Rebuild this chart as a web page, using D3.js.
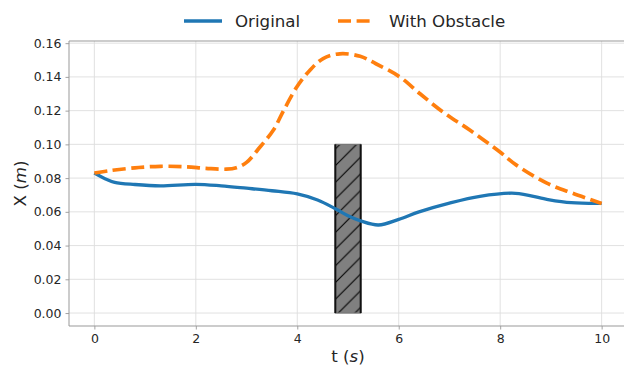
<!DOCTYPE html>
<html>
<head>
<meta charset="utf-8">
<script src="https://cdn.jsdelivr.net/npm/d3@7"></script>
<style>
  html, body { margin: 0; padding: 0; background: #fff; }
  svg { display: block; font-family: "DejaVu Sans", sans-serif; }
</style>
</head>
<body>
<svg id="chart" width="624" height="366"></svg>
<script>
// Time samples and trajectories (metres)
const originalT = [0, 0.2, 0.4, 0.8, 1.3, 2.0, 2.5, 3.0, 3.5, 4.0, 4.4, 4.76, 5.0, 5.26, 5.6, 6.0, 6.4, 7.0, 7.6, 8.3, 8.9, 9.4, 10];
const originalX = [0.083, 0.0798, 0.0775, 0.0762, 0.0754, 0.0763, 0.0754, 0.0740, 0.0725, 0.0706, 0.0670, 0.0617, 0.0577, 0.0545, 0.0522, 0.0555, 0.0600, 0.0652, 0.0692, 0.0710, 0.0675, 0.0654, 0.0650];

const obstacleT = [0, 0.3, 0.8, 1.3, 1.8, 2.2, 2.6, 2.8, 3.0, 3.27, 3.53, 3.73, 3.99, 4.25, 4.51, 4.84, 5.24, 5.55, 6.02, 6.42, 6.88, 7.4, 7.99, 8.32, 8.92, 9.43, 10];
const obstacleX = [0.083, 0.0844, 0.0861, 0.0870, 0.0867, 0.0858, 0.0853, 0.0862, 0.0893, 0.0986, 0.1085, 0.1200, 0.1340, 0.1440, 0.1509, 0.1537, 0.1522, 0.1478, 0.1400, 0.1300, 0.1190, 0.1085, 0.0956, 0.0877, 0.0770, 0.0710, 0.0650];

// Obstacle block: time span and height
const obstacleSpan = [4.75, 5.25];
const obstacleHeight = [0, 0.10];

const xTicks = [0, 2, 4, 6, 8, 10];
const yTicks = [0, 0.02, 0.04, 0.06, 0.08, 0.10, 0.12, 0.14, 0.16];
const seriesNames = ["Original", "With Obstacle"];
const seriesColors = ["#1f77b4", "#ff7f0e"];

const svg = d3.select("#chart");
const plot = { left: 69, right: 627, top: 41, bottom: 326 };

const x = d3.scaleLinear().domain([-0.5, 10.5]).range([plot.left, plot.right]);
const y = d3.scaleLinear().domain([-0.00768, 0.16128]).range([plot.bottom, plot.top]);

// Hatch pattern for the obstacle
const defs = svg.append("defs");
const hs = 16.7;
const pat = defs.append("pattern")
  .attr("id", "hatch")
  .attr("patternUnits", "userSpaceOnUse")
  .attr("width", hs).attr("height", hs)
  .attr("x", 0).attr("y", 0);
pat.append("path")
  .attr("d", `M0,${hs} L${hs},0 M${-hs/2},${hs/2} L${hs/2},${-hs/2} M${hs/2},${hs*1.5} L${hs*1.5},${hs/2}`)
  .attr("stroke", "#000").attr("stroke-width", 1.1);

// Grid lines
const grid = svg.append("g");
grid.selectAll("line.gx").data(xTicks).join("line")
  .attr("x1", d => x(d)).attr("x2", d => x(d))
  .attr("y1", plot.top).attr("y2", plot.bottom)
  .attr("stroke", "#dedede").attr("stroke-width", 0.9);
grid.selectAll("line.gy").data(yTicks).join("line")
  .attr("x1", plot.left).attr("x2", plot.right)
  .attr("y1", d => y(d)).attr("y2", d => y(d))
  .attr("stroke", "#dedede").attr("stroke-width", 0.9);

// Axes
const xAxis = svg.append("g")
  .attr("transform", `translate(0,${plot.bottom})`)
  .call(d3.axisBottom(x).tickValues(xTicks).tickFormat(d3.format("d")).tickSize(3.5).tickPadding(5));
const yAxis = svg.append("g")
  .attr("transform", `translate(${plot.left},0)`)
  .call(d3.axisLeft(y).tickValues(yTicks).tickFormat(d3.format(".2f")).tickSize(3.5).tickPadding(4));
[xAxis, yAxis].forEach(a => {
  a.select(".domain").remove();
  a.selectAll(".tick line").attr("stroke", "#999").attr("stroke-width", 0.9);
  a.selectAll(".tick text")
    .attr("fill", "#262626")
    .style("font-family", "DejaVu Sans, sans-serif")
    .style("font-size", "12.5px");
});

// Spines
svg.append("line").attr("x1", plot.left).attr("x2", plot.left)
  .attr("y1", plot.top).attr("y2", plot.bottom).attr("stroke", "#999").attr("stroke-width", 1);
svg.append("line").attr("x1", plot.left).attr("x2", plot.right)
  .attr("y1", plot.bottom).attr("y2", plot.bottom).attr("stroke", "#999").attr("stroke-width", 1);
svg.append("line").attr("x1", plot.left).attr("x2", plot.right)
  .attr("y1", plot.top).attr("y2", plot.top).attr("stroke", "#999").attr("stroke-width", 1);

// Obstacle block
const bx0 = x(obstacleSpan[0]), bx1 = x(obstacleSpan[1]);
const by0 = y(obstacleHeight[1]), by1 = y(obstacleHeight[0]);
svg.append("rect")
  .attr("x", bx0).attr("y", by0).attr("width", bx1 - bx0).attr("height", by1 - by0)
  .attr("fill", "#808080");
svg.append("rect")
  .attr("x", bx0).attr("y", by0).attr("width", bx1 - bx0).attr("height", by1 - by0)
  .attr("fill", "url(#hatch)");
svg.append("rect")
  .attr("x", bx0).attr("y", by0).attr("width", bx1 - bx0).attr("height", by1 - by0)
  .attr("fill", "none").attr("stroke", "#777").attr("stroke-width", 1.2);
[bx0, bx1].forEach(bx => svg.append("line")
  .attr("x1", bx).attr("x2", bx).attr("y1", by0).attr("y2", by1)
  .attr("stroke", "#111").attr("stroke-width", 2));

// Trajectories
const line = d3.line().x(d => x(d[0])).y(d => y(d[1])).curve(d3.curveCatmullRom.alpha(0.5));
const original = originalT.map((t, i) => [t, originalX[i]]);
const withObstacle = obstacleT.map((t, i) => [t, obstacleX[i]]);

svg.append("path").datum(original)
  .attr("d", line).attr("fill", "none")
  .attr("stroke", seriesColors[0]).attr("stroke-width", 3.3);
svg.append("path").datum(withObstacle)
  .attr("d", line).attr("fill", "none")
  .attr("stroke", seriesColors[1]).attr("stroke-width", 3.7)
  .attr("stroke-dasharray", "13,5.6");

// Legend
const legend = svg.append("g");
const legendItems = [
  { name: seriesNames[0], color: seriesColors[0], x0: 184, x1: 222, tx: 235, dash: null },
  { name: seriesNames[1], color: seriesColors[1], x0: 338, x1: 371, tx: 389, dash: "13,5.6" }
];
legendItems.forEach(it => {
  legend.append("line")
    .attr("x1", it.x0).attr("x2", it.x1).attr("y1", 21).attr("y2", 21)
    .attr("stroke", it.color).attr("stroke-width", it.dash ? 3.7 : 3.3)
    .attr("stroke-dasharray", it.dash);
  legend.append("text")
    .attr("x", it.tx).attr("y", 27)
    .attr("fill", "#262626")
    .style("font-size", "16.67px")
    .text(it.name);
});

// Axis labels
const xl = svg.append("text")
  .attr("x", (plot.left + plot.right) / 2).attr("y", 362)
  .attr("text-anchor", "middle").attr("fill", "#262626")
  .style("font-size", "16.67px");
xl.append("tspan").text("t (");
xl.append("tspan").attr("font-style", "italic").text("s");
xl.append("tspan").text(")");

const yl = svg.append("text")
  .attr("transform", `translate(26,${(plot.top + plot.bottom) / 2}) rotate(-90)`)
  .attr("text-anchor", "middle").attr("fill", "#262626")
  .style("font-size", "16.67px");
yl.append("tspan").text("X (");
yl.append("tspan").attr("font-style", "italic").text("m");
yl.append("tspan").text(")");
</script>
</body>
</html>
